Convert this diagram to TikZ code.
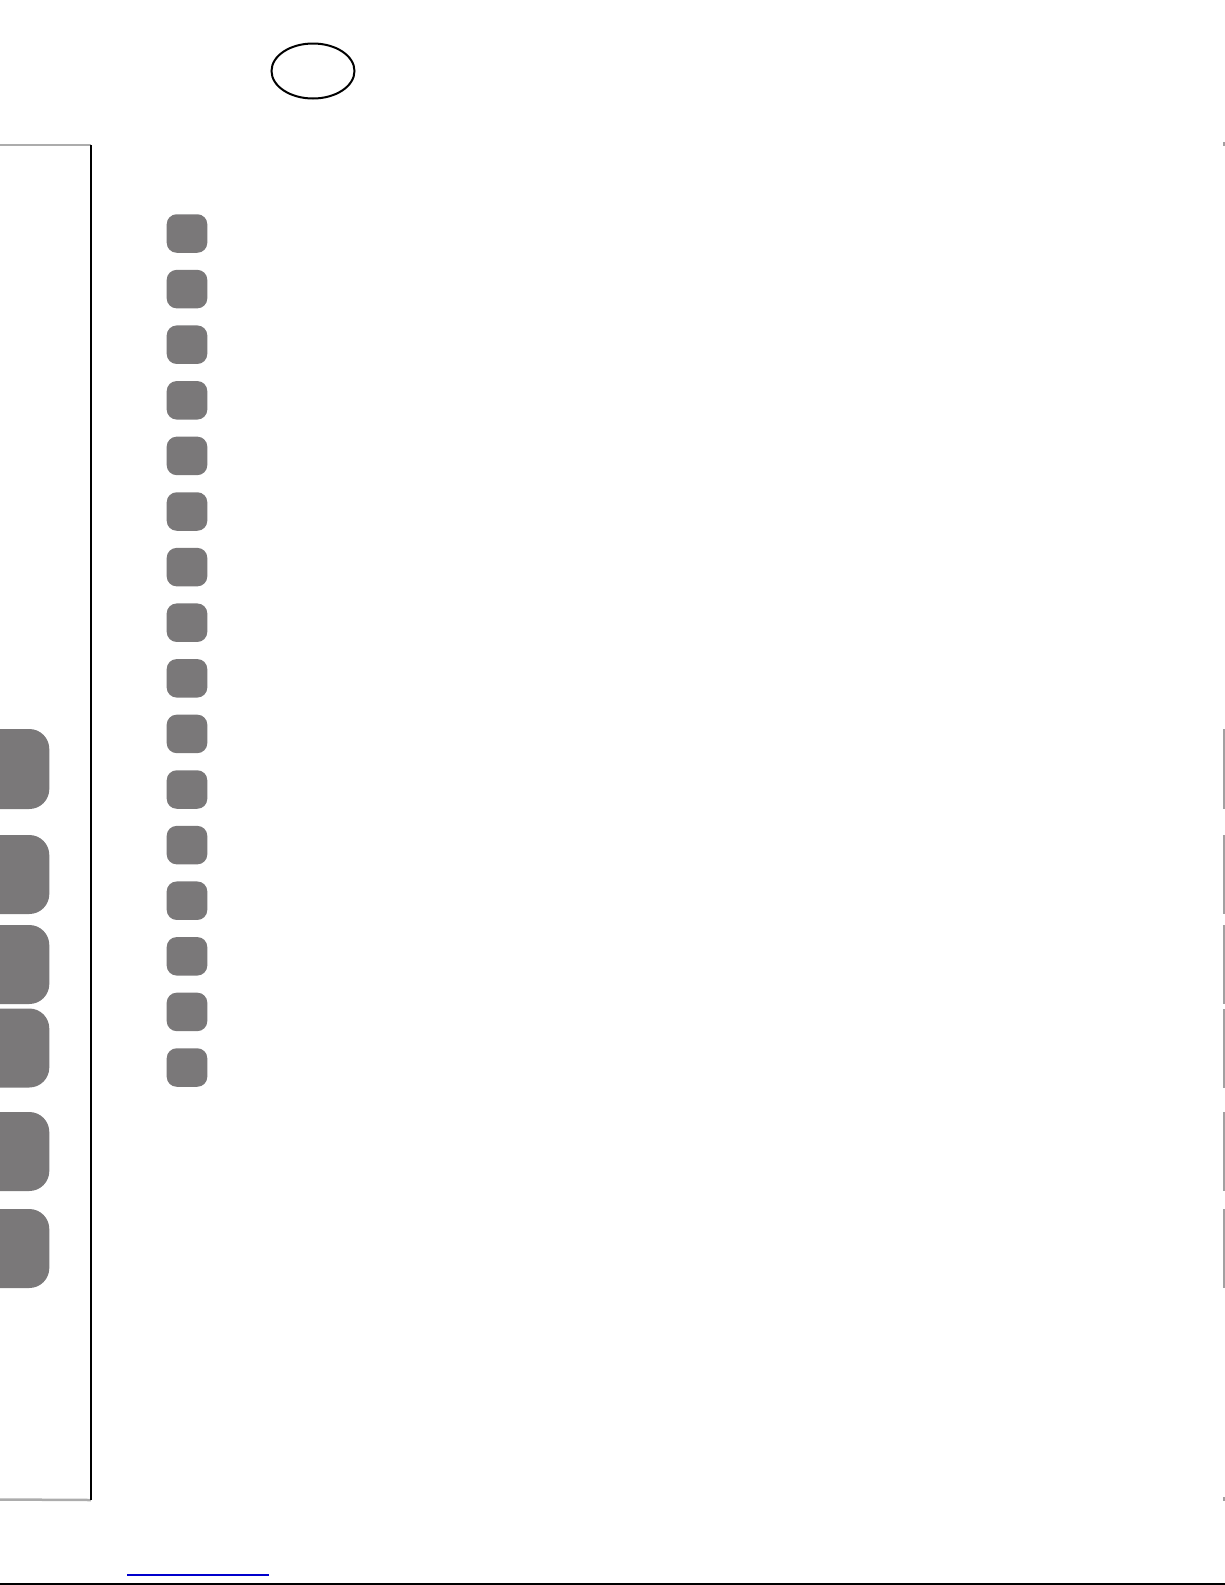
\documentclass[tikz,border=0pt]{standalone}
\usetikzlibrary{shapes.geometric}
\definecolor{tabgray}{RGB}{122,120,121}
\definecolor{rulegray}{RGB}{172,172,172}
\definecolor{linkblue}{RGB}{0,0,204}
\tikzset{
  key/.style={fill=tabgray,rounded corners=10pt,minimum width=40.6pt,minimum height=38.5pt,inner sep=0pt},
  tab/.style={fill=tabgray,rounded corners=20pt},
  edgebar/.style={fill=tabgray!70}
}
\begin{document}
\begin{tikzpicture}[x=1pt,y=-1pt]
      \useasboundingbox (0,0) rectangle (1225,1585);
      \node[draw,ellipse,line width=2pt,minimum width=83pt,minimum height=55pt] (badge) at (313,71) {};
      % margin box
      \coordinate (boxnw) at (0,145);
      \coordinate (boxne) at (91,145);
      \coordinate (boxse) at (91,1500);
      \coordinate (boxsw) at (0,1499.5);
      \draw[rulegray,line width=2pt] (boxnw) -- (boxne);
      \draw[rulegray,line width=2.5pt] (boxsw) -- (boxse);
      \draw[line width=1.3pt] (boxne) -- (boxse);
      % keys
      \node[key] (k1) at (187,233.5) {};
      \node[key] (k2) at (187,289.1) {};
      \node[key] (k3) at (187,344.7) {};
      \node[key] (k4) at (187,400.3) {};
      \node[key] (k5) at (187,455.9) {};
      \node[key] (k6) at (187,511.5) {};
      \node[key] (k7) at (187,567.1) {};
      \node[key] (k8) at (187,622.7) {};
      \node[key] (k9) at (187,678.3) {};
      \node[key] (k10) at (187,733.9) {};
      \node[key] (k11) at (187,789.5) {};
      \node[key] (k12) at (187,845.1) {};
      \node[key] (k13) at (187,900.7) {};
      \node[key] (k14) at (187,956.3) {};
      \node[key] (k15) at (187,1011.9) {};
      \node[key] (k16) at (187,1067.5) {};
      % thumb tabs
      \begin{scope}
        \clip (0,0) rectangle (1225,1585);
        \fill[tab] (-30,729) rectangle (49.3,809);
        \fill[tab] (-30,835) rectangle (49.3,914);
        \fill[tab] (-30,925) rectangle (49.3,1004);
        \fill[tab] (-30,1008.5) rectangle (49.3,1087.5);
        \fill[tab] (-30,1112) rectangle (49.3,1191);
        \fill[tab] (-30,1209) rectangle (49.3,1288);
      \end{scope}
      % right edge
      \fill[edgebar] (1223,729) rectangle (1225,809);
      \fill[edgebar] (1223,835) rectangle (1225,914);
      \fill[edgebar] (1223,925) rectangle (1225,1004);
      \fill[edgebar] (1223,1008.5) rectangle (1225,1087.5);
      \fill[edgebar] (1223,1112) rectangle (1225,1191);
      \fill[edgebar] (1223,1209) rectangle (1225,1288);
      \fill[edgebar] (1223,142) rectangle (1225,146);
      \fill[edgebar] (1223,1497) rectangle (1225,1501);
      % foot
      \coordinate (linka) at (127,1575);
      \coordinate (linkb) at (269,1575);
      \coordinate (footw) at (0,1584);
      \coordinate (foote) at (1225,1584);
      \draw[linkblue,line width=1.3pt] (linka) -- (linkb);
      \draw[line width=1.5pt] (footw) -- (foote);
    \end{tikzpicture}
\end{document}
